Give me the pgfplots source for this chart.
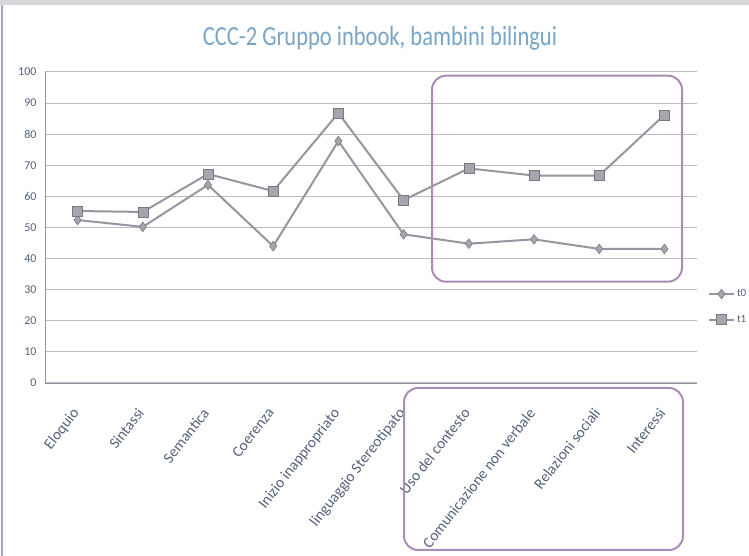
\documentclass[border=0pt]{standalone}
\usepackage{fontspec}
\setmainfont{Carlito}
\usepackage{pgfplots}
\pgfplotsset{compat=1.18}
\definecolor{tickc}{RGB}{84,98,124}
\definecolor{titlec}{RGB}{120,165,200}
\definecolor{linec}{RGB}{150,150,160}
\definecolor{gridc}{RGB}{185,188,195}
\definecolor{framec}{RGB}{160,170,210}
\definecolor{boxc}{RGB}{170,140,180}
\begin{document}
\begin{tikzpicture}
\useasboundingbox (0pt,0pt) rectangle (749pt,556pt);
\fill[white] (0pt,0pt) rectangle (749pt,556pt);
\fill[gridc!60] (0pt,551pt) rectangle (749pt,556pt);
\draw[framec,line width=1.5pt] (2pt,0pt) -- (2pt,551pt);
\node[text=titlec,font=\fontsize{23}{26}\selectfont] at (380pt,518pt) {\scalebox{0.98}[1.2]{CCC-2 Gruppo inbook, bambini bilingui}};
\begin{axis}[
  at={(45pt,173pt)}, anchor=south west,
  scale only axis, width=652pt, height=311pt,
  xmin=-0.5, xmax=9.5, ymin=0, ymax=100,
  xtick={0,...,9},
  xticklabels={Eloquio,Sintassi,Semantica,Coerenza,Inizio inappropriato,linguaggio Stereotipato,Uso del contesto,Comunicazione non verbale,Relazioni sociali,Interessi},
  ytick={0,10,...,100},
  ymajorgrids, grid style={gridc,line width=1pt},
  major tick length=0pt,
  axis x line*=bottom, axis y line*=left,
  axis line style={gridc!80!black,line width=0.8pt},
  x axis line style={-}, y axis line style={-},
  tick label style={text=tickc,font=\fontsize{12}{14}\selectfont},
  yticklabel style={xshift=-5pt},
  /pgf/number format/assume math mode=true,
  xticklabel style={xshift=-7pt,yshift=-19pt,rotate=52,anchor=north east,font=\fontsize{15.3}{17}\selectfont},
  legend style={at={(1.012,0.245)},anchor=west,draw=none,fill=none,
    font=\fontsize{11}{13}\selectfont,text=tickc,row sep=13pt,
    legend image code/.code={\draw[mark repeat=2,mark phase=2] plot coordinates {(0pt,0pt)(12.5pt,0pt)(25pt,0pt)};}},
  legend cell align=left,
  clip=false,
]
\addplot[linec,line width=2pt,mark=diamond*,mark size=4.8pt,mark options={fill=linec!85,draw=linec!80!black,line width=0.6pt}]
coordinates {(0,52.4)(1,50.2)(2,63.7)(3,44)(4,77.8)(5,47.8)(6,44.8)(7,46.2)(8,43.1)(9,43.1)};
\addlegendentry{t0}
\addplot[linec,line width=2pt,mark=square*,mark size=5pt,mark options={fill=linec!85,draw=linec!80!black,line width=0.6pt}]
coordinates {(0,55.3)(1,55)(2,67.2)(3,61.7)(4,86.8)(5,58.8)(6,69.0)(7,66.7)(8,66.7)(9,86.2)};
\addlegendentry{t1}
\end{axis}
\draw[boxc,line width=2pt,rounded corners=14pt] (432pt,274.3pt) rectangle (682pt,480.3pt);
\draw[boxc,line width=2pt,rounded corners=14pt] (404pt,6pt) rectangle (683pt,168pt);
\end{tikzpicture}
\end{document}
